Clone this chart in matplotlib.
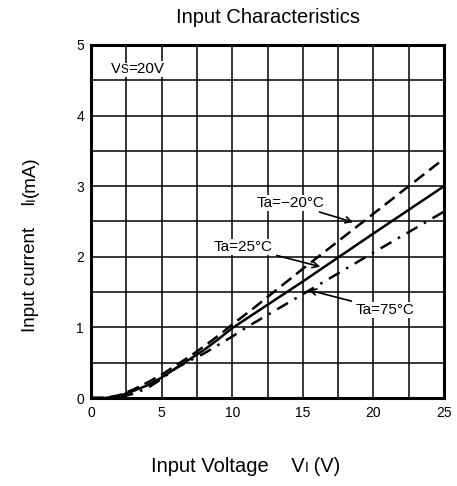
import numpy as np
import matplotlib
matplotlib.use("Agg")
import matplotlib.pyplot as plt

plt.rcParams['font.family'] = ['Liberation Sans', 'DejaVu Sans']

# Input voltage (V) and input current (mA)
v_25 = [0, 1, 2, 3, 4, 5, 6, 7, 8, 9, 10, 15, 20, 25]
i_25 = [0, 0, 0.03, 0.1, 0.18, 0.29, 0.42, 0.55, 0.68, 0.83, 0.99, 1.65, 2.33, 3.0]

v_m20 = [0, 1, 2, 3, 4, 5, 6, 7, 8, 9, 10, 11.5, 15, 20, 25]
i_m20 = [0, 0, 0.04, 0.12, 0.22, 0.33, 0.46, 0.59, 0.73, 0.88, 1.04, 1.27, 1.83, 2.61, 3.39]

v_75 = [0, 1, 2, 3, 4, 5, 6, 7, 8, 9, 10, 11, 15, 20, 25]
i_75 = [0, 0, 0.01, 0.06, 0.14, 0.27, 0.42, 0.53, 0.63, 0.75, 0.87, 1.0, 1.47, 2.06, 2.64]

x_ticks = [0, 5, 10, 15, 20, 25]
y_ticks = [0, 1, 2, 3, 4, 5]

fig = plt.figure(figsize=(4.57, 4.86), dpi=100)
ax = fig.add_axes([91 / 457, 88 / 486, 353 / 457, 353 / 486])

ax.plot(v_m20, i_m20, color='black', lw=1.8, dashes=(5, 2.5), zorder=3)
ax.plot(v_25, i_25, color='black', lw=1.8, zorder=3)
ax.plot(v_75, i_75, color='black', lw=1.8, dashes=(5, 3, 1, 3), zorder=3)

ax.set_xlim(0, 25)
ax.set_ylim(0, 5)
xs = np.arange(0, 25.1, 2.5)
ys = np.arange(0, 5.01, 0.5)
ax.set_xticks(xs)
ax.set_xticklabels([f"{t:g}" if t in x_ticks else '' for t in xs])
ax.set_yticks(ys)
ax.set_yticklabels([f"{t:g}" if t in y_ticks else '' for t in ys])
ax.tick_params(length=0, labelsize=10)
ax.tick_params(axis='x', pad=6)
ax.tick_params(axis='y', pad=5)
ax.grid(True, color='black', lw=1.1)
for s in ax.spines.values():
    s.set_linewidth(2.2)

ax.set_title("Input Characteristics", fontsize=14.5, pad=16)

box = dict(fc='white', ec='none', pad=0.8)

# Vs=20V label with small S
t1 = ax.text(1.4, 4.6, "V", fontsize=11, va='baseline', bbox=box, zorder=4)
t2 = ax.annotate("S", xy=(1, 4.6), xycoords=(t1, 'data'), fontsize=8.5,
                 va='baseline', bbox=box, zorder=4)
ax.annotate("=20V", xy=(1, 4.6), xycoords=(t2, 'data'), fontsize=11,
            va='baseline', bbox=box, zorder=4)

# curve labels
arrow = dict(arrowstyle='->', color='black', lw=1.2, shrinkA=2, shrinkB=0)
ax.annotate("Ta=\u221220\u00b0C", xy=(18.57, 2.49), xytext=(14.1, 2.76), fontsize=11,
            ha='center', va='center', arrowprops=arrow, bbox=box, zorder=4)
ax.annotate("Ta=25\u00b0C", xy=(16.24, 1.86), xytext=(10.8, 2.14), fontsize=11,
            ha='center', va='center', arrowprops=arrow, bbox=box, zorder=4)
ax.annotate("Ta=75\u00b0C", xy=(15.4, 1.53), xytext=(20.8, 1.25), fontsize=11,
            ha='center', va='center', arrowprops=arrow, bbox=box, zorder=4)

# x label
xl = fig.text(151 / 457, 0.029, "Input Voltage    V", fontsize=14.5, va='baseline')
xi = plt.annotate("I", xy=(1, 0.029), xycoords=(xl, 'figure fraction'), fontsize=10,
                  va='baseline')
plt.annotate(" (V)", xy=(1, 0.029), xycoords=(xi, 'figure fraction'), fontsize=14.5,
             va='baseline')

# y label
yl = fig.text(35 / 457, 154 / 486, "Input current    I", fontsize=13.5, rotation=90,
              rotation_mode='anchor', ha='left', va='baseline')
yi = plt.annotate("I", xy=(35 / 457, 1), xycoords=('figure fraction', yl), fontsize=9.5,
                  rotation=90, rotation_mode='anchor', ha='left', va='baseline')
plt.annotate("(mA)", xy=(35 / 457, 1), xycoords=('figure fraction', yi), fontsize=13.5,
             rotation=90, rotation_mode='anchor', ha='left', va='baseline')

fig.savefig("out.png", dpi=100)
